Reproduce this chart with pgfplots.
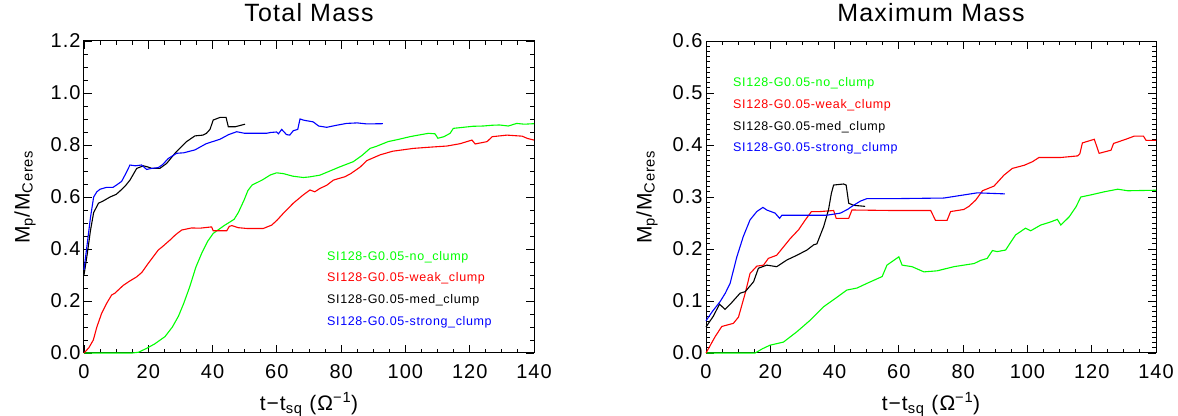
\documentclass[border=0pt]{standalone}
\usepackage{fontspec}
\setmainfont{Liberation Sans}[LetterSpace=5]
\usepackage{pgfplots}
\pgfplotsset{compat=1.18}

% IDL-like boxed panel
\pgfplotsset{idl/.style={
    scale only axis, width=450pt, height=312pt,
    xmin=0, xmax=140, xtick={0,20,...,140}, minor x tick num=3,
    ymin=0,
    tick align=inside, tick pos=both, ticklabel pos=left,
    major tick length=8pt, minor tick length=4pt,
    axis line style={line width=1pt},
    tick style={black, line width=0.9pt},
    tick label style={font=\fontsize{20}{20}\selectfont},
    /pgf/number format/assume math mode=true,
    xticklabel style={yshift=-8pt},
    yticklabel style={/pgf/number format/.cd, fixed, fixed zerofill, precision=1},
    title style={font=\fontsize{25}{25}\selectfont, at={(axis description cs:0.5,1.042)}, anchor=base},
    xlabel style={font=\fontsize{21}{21}\selectfont, at={(axis description cs:0.5,-0.183)}, anchor=base},
    ylabel style={font=\fontsize{21}{21}\selectfont, at={(axis description cs:-0.131,0.5)}, anchor=center},
    xlabel={t−t\textsubscript{sq} (Ω\textsuperscript{−1})},
    ylabel={M\textsubscript{p}/M\textsubscript{Ceres}},
    clip=false,
    every axis plot/.append style={line width=1.1pt, mark=none},
}}
\newcommand{\lab}{\fontsize{12.5}{13}\selectfont}

\begin{document}
\begin{tikzpicture}
\useasboundingbox (0,0) rectangle (1178pt,415pt);

% ---------------- Total Mass ----------------
\begin{axis}[idl, at={(84pt,62pt)}, anchor=south west,
    ymax=1.2, ytick={0,0.2,...,1.2}, minor y tick num=3,
    title={Total Mass}]
\addplot[green] coordinates {
(0,0) (15,0) (17,0.003) (19.5,0.018) (22,0.035) (25.2,0.063) (27.5,0.10)
(29.4,0.142) (31,0.19) (32.9,0.255) (34.8,0.33) (36.6,0.383) (38.5,0.43)
(40.2,0.46) (43.6,0.49) (46.7,0.514) (48,0.54) (49.8,0.588) (51,0.625)
(52.3,0.646) (55.4,0.665) (58,0.685) (59.9,0.693) (62,0.69) (65,0.68)
(68.2,0.675) (70,0.677) (73.4,0.684) (76.5,0.70) (79.6,0.716) (83.8,0.736)
(86.5,0.76) (89,0.787) (91,0.795) (94.6,0.813) (98,0.822) (101.4,0.832)
(104,0.838) (107.2,0.845) (109.2,0.843) (110.1,0.826) (112,0.832) (113.9,0.845)
(114.9,0.864) (118,0.868) (121,0.872) (124.2,0.873) (127,0.876) (129.3,0.877)
(132,0.873) (134.6,0.883) (137,0.88) (140,0.882)
};
\addplot[red] coordinates {
(0,0) (1.5,0.02) (2.9,0.05) (4,0.10) (5.5,0.153) (7,0.19) (8.6,0.223)
(9.6,0.23) (12.2,0.26) (14,0.275) (16.4,0.293) (18,0.31) (20,0.345)
(23.1,0.396) (24.5,0.41) (26.8,0.435) (28.5,0.455) (30.4,0.473) (33.5,0.481)
(36,0.48) (39.7,0.485) (40.2,0.47) (44.4,0.47) (45.2,0.487) (46,0.49)
(48,0.482) (50.6,0.479) (55.8,0.479) (58.4,0.492) (60,0.51) (62,0.537)
(65.1,0.576) (68.2,0.608) (70.3,0.627) (71.8,0.62) (73.4,0.633) (75.5,0.645)
(77.6,0.665) (79.5,0.672) (81.2,0.678) (83,0.69) (85.9,0.715) (88,0.74)
(92.1,0.762) (96,0.776) (102.5,0.787) (108,0.792) (112.9,0.796) (117,0.805)
(120.7,0.819) (121.7,0.804) (125.4,0.813) (127,0.832) (131.6,0.838)
(136.3,0.834) (138,0.825) (140,0.819)
};
\addplot[black] coordinates {
(0,0.30) (1,0.38) (2,0.47) (3,0.54) (4.5,0.576) (6,0.585) (8.1,0.60)
(10,0.61) (11.2,0.623) (13,0.645) (14.3,0.665) (16.4,0.71) (18.5,0.72)
(20,0.715) (21.1,0.71) (23.6,0.71) (25.7,0.729) (28.3,0.768) (30,0.79)
(31.9,0.813) (34.5,0.835) (37,0.838) (38.1,0.845) (39.2,0.86) (40.2,0.896)
(42.3,0.906) (44.2,0.906) (44.9,0.87) (47,0.87) (50.1,0.88)
};
\addplot[blue] coordinates {
(0,0.32) (1,0.42) (2,0.52) (3,0.60) (4,0.62) (5,0.63) (7,0.637) (9,0.637)
(10,0.645) (11.7,0.66) (13,0.69) (14.3,0.723) (16,0.72) (17.9,0.723)
(19.5,0.706) (21,0.71) (23.1,0.713) (24.5,0.725) (26.2,0.748) (28.8,0.768)
(31,0.77) (34.5,0.781) (38,0.805) (42.3,0.822) (45,0.84) (47.5,0.851)
(50,0.845) (56.8,0.845) (58,0.848) (59.9,0.85) (60.5,0.843) (61.5,0.86)
(63,0.84) (64,0.838) (65.1,0.855) (66.5,0.86) (67.2,0.90) (68.5,0.895)
(71.3,0.889) (73,0.873) (75.5,0.868) (78.6,0.876) (81.7,0.883) (85,0.885)
(88,0.881) (93,0.882)
};
\node[anchor=west, inner sep=0, text=green] at (axis cs:75.6,0.370) {\lab SI128-G0.05-no\_clump};
\node[anchor=west, inner sep=0, text=red]   at (axis cs:75.6,0.287) {\lab SI128-G0.05-weak\_clump};
\node[anchor=west, inner sep=0, text=black] at (axis cs:75.6,0.204) {\lab SI128-G0.05-med\_clump};
\node[anchor=west, inner sep=0, text=blue]  at (axis cs:75.6,0.120) {\lab SI128-G0.05-strong\_clump};
\end{axis}

% ---------------- Maximum Mass ----------------
\begin{axis}[idl, at={(706pt,62pt)}, anchor=south west,
    ymax=0.6, ytick={0,0.1,0.2,0.3,0.4,0.5,0.6}, minor y tick num=9,
    title={Maximum Mass}]
\addplot[green] coordinates {
(0,0) (15.3,0) (17.5,0.008) (19.9,0.015) (24.1,0.021) (28.3,0.041)
(32.4,0.063) (36.6,0.089) (40.7,0.107) (43.8,0.121) (47,0.125) (50.1,0.134)
(54.8,0.147) (56.3,0.169) (60,0.185) (61,0.169) (64.1,0.166) (67.8,0.156)
(71.9,0.158) (77.1,0.166) (83.4,0.172) (85.4,0.178) (87.5,0.182) (89.1,0.197)
(90.6,0.195) (93.2,0.198) (96.3,0.227) (99.4,0.24) (101,0.235) (104.1,0.246)
(107.2,0.252) (109.3,0.257) (110.4,0.246) (113,0.262) (115.1,0.281)
(116.6,0.3) (119.7,0.304) (123.9,0.31) (128.1,0.315) (131.2,0.312) (140,0.313)
};
\addplot[red] coordinates {
(0,0) (2.8,0.031) (4.9,0.051) (8.5,0.057) (10.1,0.069) (12.2,0.115)
(13.7,0.153) (15.8,0.167) (17.9,0.169) (19.4,0.182) (22,0.188) (24.1,0.204)
(26.2,0.22) (28.8,0.237) (30.9,0.256) (32.8,0.272) (35.5,0.272) (39.7,0.274)
(40.5,0.259) (44.4,0.259) (45.4,0.275) (58.4,0.274) (69.9,0.274) (71.4,0.255)
(75,0.255) (76.1,0.272) (80.2,0.276) (81.8,0.282) (83.9,0.294) (86,0.312)
(89.6,0.321) (92.7,0.342) (95.3,0.355) (99,0.361) (101.6,0.368) (103.6,0.376)
(110.4,0.376) (115.6,0.379) (116.3,0.383) (117.1,0.404) (120.8,0.411)
(122.3,0.384) (126,0.39) (126.8,0.403) (130.6,0.411) (133.2,0.417)
(136.1,0.417) (136.9,0.409) (140,0.409)
};
\addplot[black] coordinates {
(0,0.05) (2.3,0.071) (4.2,0.094) (5.9,0.084) (8,0.097) (10.6,0.115)
(12.2,0.118) (14.8,0.137) (16.3,0.163) (18.9,0.169) (22,0.166) (25.2,0.179)
(28.3,0.188) (31.4,0.198) (33.5,0.208) (34.5,0.21) (36.6,0.243) (38.1,0.275)
(39,0.307) (39.7,0.323) (42.8,0.325) (43.6,0.323) (44.4,0.288) (45.9,0.284)
(49.5,0.282)
};
\addplot[blue] coordinates {
(0,0.062) (2,0.08) (4.4,0.099) (6,0.115) (7.5,0.134) (9.6,0.185)
(11.6,0.224) (13.7,0.256) (15.8,0.272) (17.7,0.28) (18.9,0.275) (21.5,0.269)
(22.9,0.259) (23.6,0.265) (30,0.265) (37.6,0.265) (41.8,0.269) (44,0.276)
(45.9,0.284) (48,0.292) (50.1,0.297) (60.5,0.297) (74,0.298) (79.2,0.303)
(84.4,0.308) (93,0.306)
};
\node[anchor=west, inner sep=0, text=green] at (axis cs:8.4,0.519) {\lab SI128-G0.05-no\_clump};
\node[anchor=west, inner sep=0, text=red]   at (axis cs:8.4,0.477) {\lab SI128-G0.05-weak\_clump};
\node[anchor=west, inner sep=0, text=black] at (axis cs:8.4,0.435) {\lab SI128-G0.05-med\_clump};
\node[anchor=west, inner sep=0, text=blue]  at (axis cs:8.4,0.394) {\lab SI128-G0.05-strong\_clump};
\end{axis}
\end{tikzpicture}
\end{document}
